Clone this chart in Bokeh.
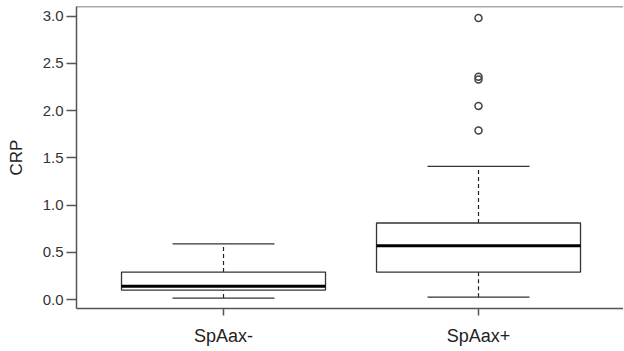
from bokeh.plotting import figure
from bokeh.models import Range1d, FixedTicker, PrintfTickFormatter, Span
from bokeh.embed import file_html
from bokeh.resources import INLINE

# ---- data ----
categories = ["SpAax-", "SpAax+"]
lower_whisker = [0.015, 0.025]
q1 = [0.10, 0.29]
median = [0.14, 0.57]
q3 = [0.29, 0.81]
upper_whisker = [0.59, 1.41]
outlier_group = ["SpAax+", "SpAax+", "SpAax+", "SpAax+", "SpAax+"]
outlier_values = [2.98, 2.36, 2.33, 2.05, 1.79]
y_ticks = [0.0, 0.5, 1.0, 1.5, 2.0, 2.5, 3.0]

xpos = [i + 1 for i in range(len(categories))]
opos = [categories.index(g) + 1 for g in outlier_group]
box_w = 0.8
cap_w = 0.4

FONT = "Liberation Sans"
AX = "#555555"
TXT = "#333333"
Y_END = 3.103

p = figure(width=623, height=350, output_backend="svg", toolbar_location=None,
           x_range=Range1d(0.4235, 2.5686), y_range=Range1d(-0.0953, Y_END),
           min_border_left=76, min_border_right=0, min_border_top=6, min_border_bottom=42)
p.outline_line_color = None
p.xgrid.visible = False
p.ygrid.visible = False
p.background_fill_color = "white"

# whiskers (dashed)
p.segment(x0=xpos, x1=xpos, y0=q3, y1=upper_whisker, line_color="#222222", line_width=1.2, line_dash="4 3")
p.segment(x0=xpos, x1=xpos, y0=lower_whisker, y1=q1, line_color="#222222", line_width=1.2, line_dash="4 3")
# caps
p.segment(x0=[x - cap_w / 2 for x in xpos], x1=[x + cap_w / 2 for x in xpos], y0=upper_whisker, y1=upper_whisker,
          line_color="#333333", line_width=1.3)
p.segment(x0=[x - cap_w / 2 for x in xpos], x1=[x + cap_w / 2 for x in xpos], y0=lower_whisker, y1=lower_whisker,
          line_color="#333333", line_width=1.3)
# boxes
p.quad(left=[x - box_w / 2 for x in xpos], right=[x + box_w / 2 for x in xpos], bottom=q1, top=q3,
       fill_color="white", line_color="#333333", line_width=1.3)
# medians
p.segment(x0=[x - box_w / 2 for x in xpos], x1=[x + box_w / 2 for x in xpos], y0=median, y1=median,
          line_color="black", line_width=3)
# outliers
p.scatter(x=opos, y=outlier_values, marker="circle", size=7, fill_color=None, line_color="#444444", line_width=1.5)

# top border
p.add_layout(Span(location=Y_END, dimension="width", line_color=AX, line_width=1.5))

# y axis
ya = p.yaxis[0]
ya.ticker = FixedTicker(ticks=y_ticks)
ya.formatter = PrintfTickFormatter(format="%.1f")
ya.axis_label = "CRP"
ya.axis_label_text_font = FONT
ya.axis_label_text_font_size = "17px"
ya.axis_label_text_font_style = "normal"
ya.axis_label_text_color = "#222222"
ya.axis_label_standoff = 14
ya.major_label_text_font = FONT
ya.major_label_text_font_size = "15px"
ya.major_label_text_color = TXT
ya.major_label_standoff = 3
ya.major_tick_out = 10
ya.major_tick_in = 0
ya.minor_tick_out = 0
ya.minor_tick_in = 0
ya.axis_line_color = AX
ya.axis_line_width = 1.5
ya.major_tick_line_color = AX
ya.major_tick_line_width = 1.5

# x axis
xa = p.xaxis[0]
xa.ticker = FixedTicker(ticks=xpos)
xa.major_label_overrides = {x: c for x, c in zip(xpos, categories)}
xa.major_label_text_font = FONT
xa.major_label_text_font_size = "18px"
xa.major_label_text_color = "#222222"
xa.major_label_standoff = 10
xa.major_tick_out = 7
xa.major_tick_in = 0
xa.minor_tick_out = 0
xa.minor_tick_in = 0
xa.axis_line_color = AX
xa.axis_line_width = 1.5
xa.major_tick_line_color = AX
xa.major_tick_line_width = 1.5

open("out.html", "w").write(file_html(p, INLINE))
